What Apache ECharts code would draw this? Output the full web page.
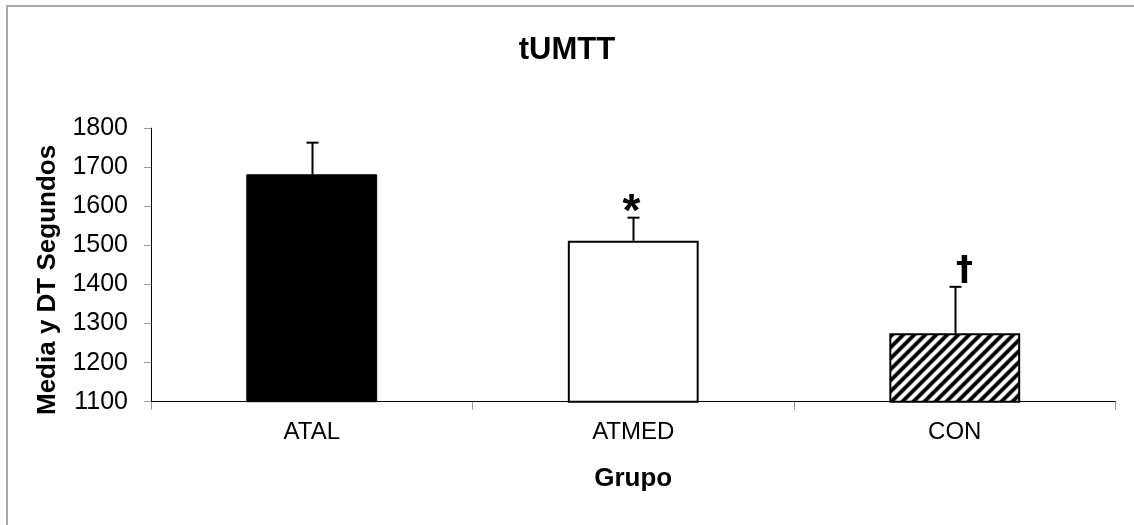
<!DOCTYPE html>
<html><head><meta charset="utf-8">
<script src="https://cdn.jsdelivr.net/npm/echarts@6/dist/echarts.min.js"></script>
<style>html,body{margin:0;padding:0;background:#fff}#c{width:1134px;height:525px}</style>
</head><body><div id="c"></div>
<script>
const categories = ['ATAL', 'ATMED', 'CON'];
const means = [1682, 1512, 1275];
const sds = [81, 59, 119];
const marks = ['', '*', '†'];
const yTicks = [1100, 1200, 1300, 1400, 1500, 1600, 1700, 1800];

function hatch() {
  const s = 11, c = document.createElement('canvas');
  c.width = s; c.height = s;
  const g = c.getContext('2d');
  const img = g.createImageData(s, s);
  for (let y = 0; y < s; y++) {
    for (let x = 0; x < s; x++) {
      const t = 0.5 + 0.8 * Math.cos(2 * Math.PI * (x + y + 0.5) / s);
      const v = Math.round(255 * Math.max(0, Math.min(1, t)));
      const o = (y * s + x) * 4;
      img.data[o] = v; img.data[o + 1] = v; img.data[o + 2] = v; img.data[o + 3] = 255;
    }
  }
  g.putImageData(img, 0, 0);
  return c;
}

const font = '"Liberation Sans", Arial, sans-serif';
const chart = echarts.init(document.getElementById('c'), null, {renderer: 'canvas'});
const barStyles = [
  {color: '#000', borderColor: '#000', borderWidth: 1},
  {color: '#fff', borderColor: '#000', borderWidth: 2},
  {color: {image: hatch(), repeat: 'repeat'}, borderColor: '#000', borderWidth: 2}
];

chart.setOption({
  animation: false,
  backgroundColor: '#fff',
  title: {
    text: 'tUMTT', left: 'center', top: 30, itemGap: 0,
    textStyle: {fontFamily: font, fontWeight: 'bold', fontSize: 31, color: '#000'}
  },
  graphic: [{
    type: 'rect', shape: {x: 7, y: 6, width: 1140, height: 540},
    style: {fill: 'none', stroke: '#aaa', lineWidth: 2}, silent: true
  }],
  grid: {left: 151, right: 18.5, top: 128.2, bottom: 123.3},
  xAxis: {
    type: 'category', data: categories,
    name: 'Grupo', nameLocation: 'middle', nameGap: 64,
    nameTextStyle: {fontFamily: font, fontWeight: 'bold', fontSize: 26, color: '#000'},
    axisLine: {lineStyle: {color: '#000', width: 1}},
    axisTick: {show: true, length: 8, lineStyle: {color: '#999'}},
    axisLabel: {fontFamily: font, fontSize: 24, color: '#000', margin: 19}
  },
  yAxis: {
    type: 'value', min: yTicks[0], max: yTicks[yTicks.length - 1], interval: 100,
    name: 'Media y DT Segundos', nameLocation: 'middle', nameGap: 90, nameRotate: 90,
    nameTextStyle: {fontFamily: font, fontWeight: 'bold', fontSize: 26, color: '#000', padding: [0, 30, 0, 0]},
    axisLine: {show: true, lineStyle: {color: '#000', width: 1}},
    axisTick: {show: true, length: 7, lineStyle: {color: '#999'}},
    splitLine: {show: false},
    axisLabel: {fontFamily: font, fontSize: 25, color: '#000', margin: 23, formatter: v => String(v)}
  },
  series: [
    {
      type: 'bar', barWidth: '40.7%',
      data: means.map((v, i) => ({value: v, itemStyle: barStyles[i]})),
      z: 2
    },
    {
      type: 'custom', z: 3,
      data: means.map((v, i) => [i, v, v + sds[i]]),
      renderItem: function (params, api) {
        const i = api.value(0);
        const p0 = api.coord([i, api.value(1)]);
        const p1 = api.coord([i, api.value(2)]);
        const x = Math.round(p0[0]) + 0.5;
        const children = [
          {type: 'line', shape: {x1: x, y1: p0[1], x2: x, y2: p1[1]}, style: {stroke: '#000', lineWidth: 2}},
          {type: 'line', shape: {x1: x - 6, y1: p1[1], x2: x + 6, y2: p1[1]}, style: {stroke: '#000', lineWidth: 2}}
        ];
        const m = marks[i];
        if (m) {
          const star = m === '*';
          children.push({
            type: 'text',
            style: {
              x: x + (star ? -2 : 9), y: p1[1] + (star ? -4 : -16),
              text: m, align: 'center', verticalAlign: 'middle',
              font: 'bold ' + (star ? 46 : 34) + 'px ' + (star ? font : '"DejaVu Sans", sans-serif'), fill: '#000'
            }
          });
        }
        return {type: 'group', children: children};
      }
    }
  ]
});
</script></body></html>
